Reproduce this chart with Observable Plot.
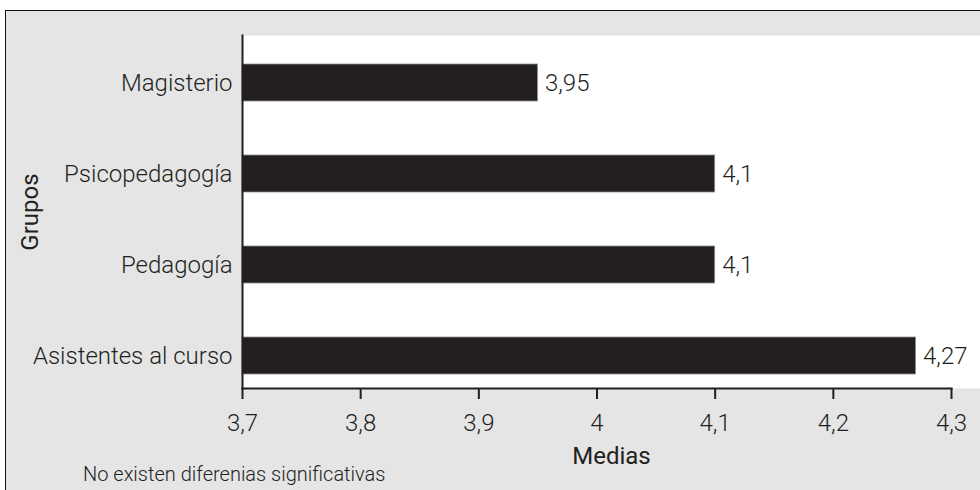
<!DOCTYPE html>
<html>
<head>
<meta charset="utf-8">
<script src="https://cdn.jsdelivr.net/npm/d3@7"></script>
<script src="https://cdn.jsdelivr.net/npm/@observablehq/plot@0.6"></script>
<style>
  html, body { margin: 0; padding: 0; background: #ffffff; }
  #wrap { position: relative; width: 980px; height: 490px; overflow: hidden; }
  #panel {
    position: absolute; left: 5px; top: 10px; width: 1000px; height: 500px;
    background: #e5e5e5; border-left: 1.5px solid #111; border-top: 1.5px solid #111;
  }
  #chart { position: absolute; left: 0; top: 0; }
  #note {
    position: absolute; left: 83px; top: 464px; line-height: 1;
    font-family: Roboto, "Liberation Sans", sans-serif; font-weight: 300;
    font-size: 20px; color: #231f20; white-space: nowrap;
  }
</style>
</head>
<body>
<div id="wrap">
  <div id="panel"></div>
  <div id="chart"></div>
  <div id="note">No existen diferenias significativas</div>
</div>
<script>
// Mean score per group
const groups = ["Magisterio", "Psicopedagogía", "Pedagogía", "Asistentes al curso"];
const means = [3.95, 4.1, 4.1, 4.27];
const xTicks = [3.7, 3.8, 3.9, 4.0, 4.1, 4.2, 4.3];
const xDomain = [3.7, 4.3];

const rows = groups.map((g, i) => ({group: g, mean: means[i]}));
const comma = d => String(+d.toFixed(2)).replace(".", ",");

const ink = "#231f20";
const font = "Roboto, 'Liberation Sans', sans-serif";

const chart = Plot.plot({
  width: 980,
  height: 490,
  marginLeft: 242,
  marginRight: 0,
  marginTop: 35,
  marginBottom: 102,
  style: {background: "transparent", fontFamily: font, fontWeight: 300, color: ink, fontSize: "24px"},
  x: {domain: xDomain, range: [242, 951]},
  y: {domain: groups, range: [62, 375], paddingInner: 0.594, paddingOuter: 0},
  marks: [
    Plot.frame({fill: "white", stroke: null}),
    Plot.barX(rows, {y: "group", x1: xDomain[0], x2: "mean", fill: ink, stroke: "#8c8c8c", strokeWidth: 0.8}),
    Plot.text(rows, {y: "group", x: "mean", text: d => comma(d.mean), textAnchor: "start", dx: 7, fontSize: 24, fill: ink}),
    Plot.axisY({tickSize: 0, tickPadding: 10, fontSize: 24, label: null}),
    Plot.axisY({ticks: [], label: "Grupos", labelAnchor: "center", labelOffset: 222, labelArrow: "none", fontSize: 24, fontWeight: 400}),
    Plot.axisX(xTicks, {tickSize: 11, tickPadding: 14, strokeWidth: 2, fontSize: 24, tickFormat: comma, label: null}),
    Plot.axisX({ticks: [], label: "Medias", labelAnchor: "center", labelOffset: 75, labelArrow: "none", fontSize: 24, fontWeight: 400}),
    Plot.frame({anchor: "left", stroke: ink, strokeWidth: 2}),
    Plot.frame({anchor: "bottom", stroke: ink, strokeWidth: 2, insetRight: 29})
  ]
});
document.getElementById("chart").appendChild(chart);
</script>
</body>
</html>
